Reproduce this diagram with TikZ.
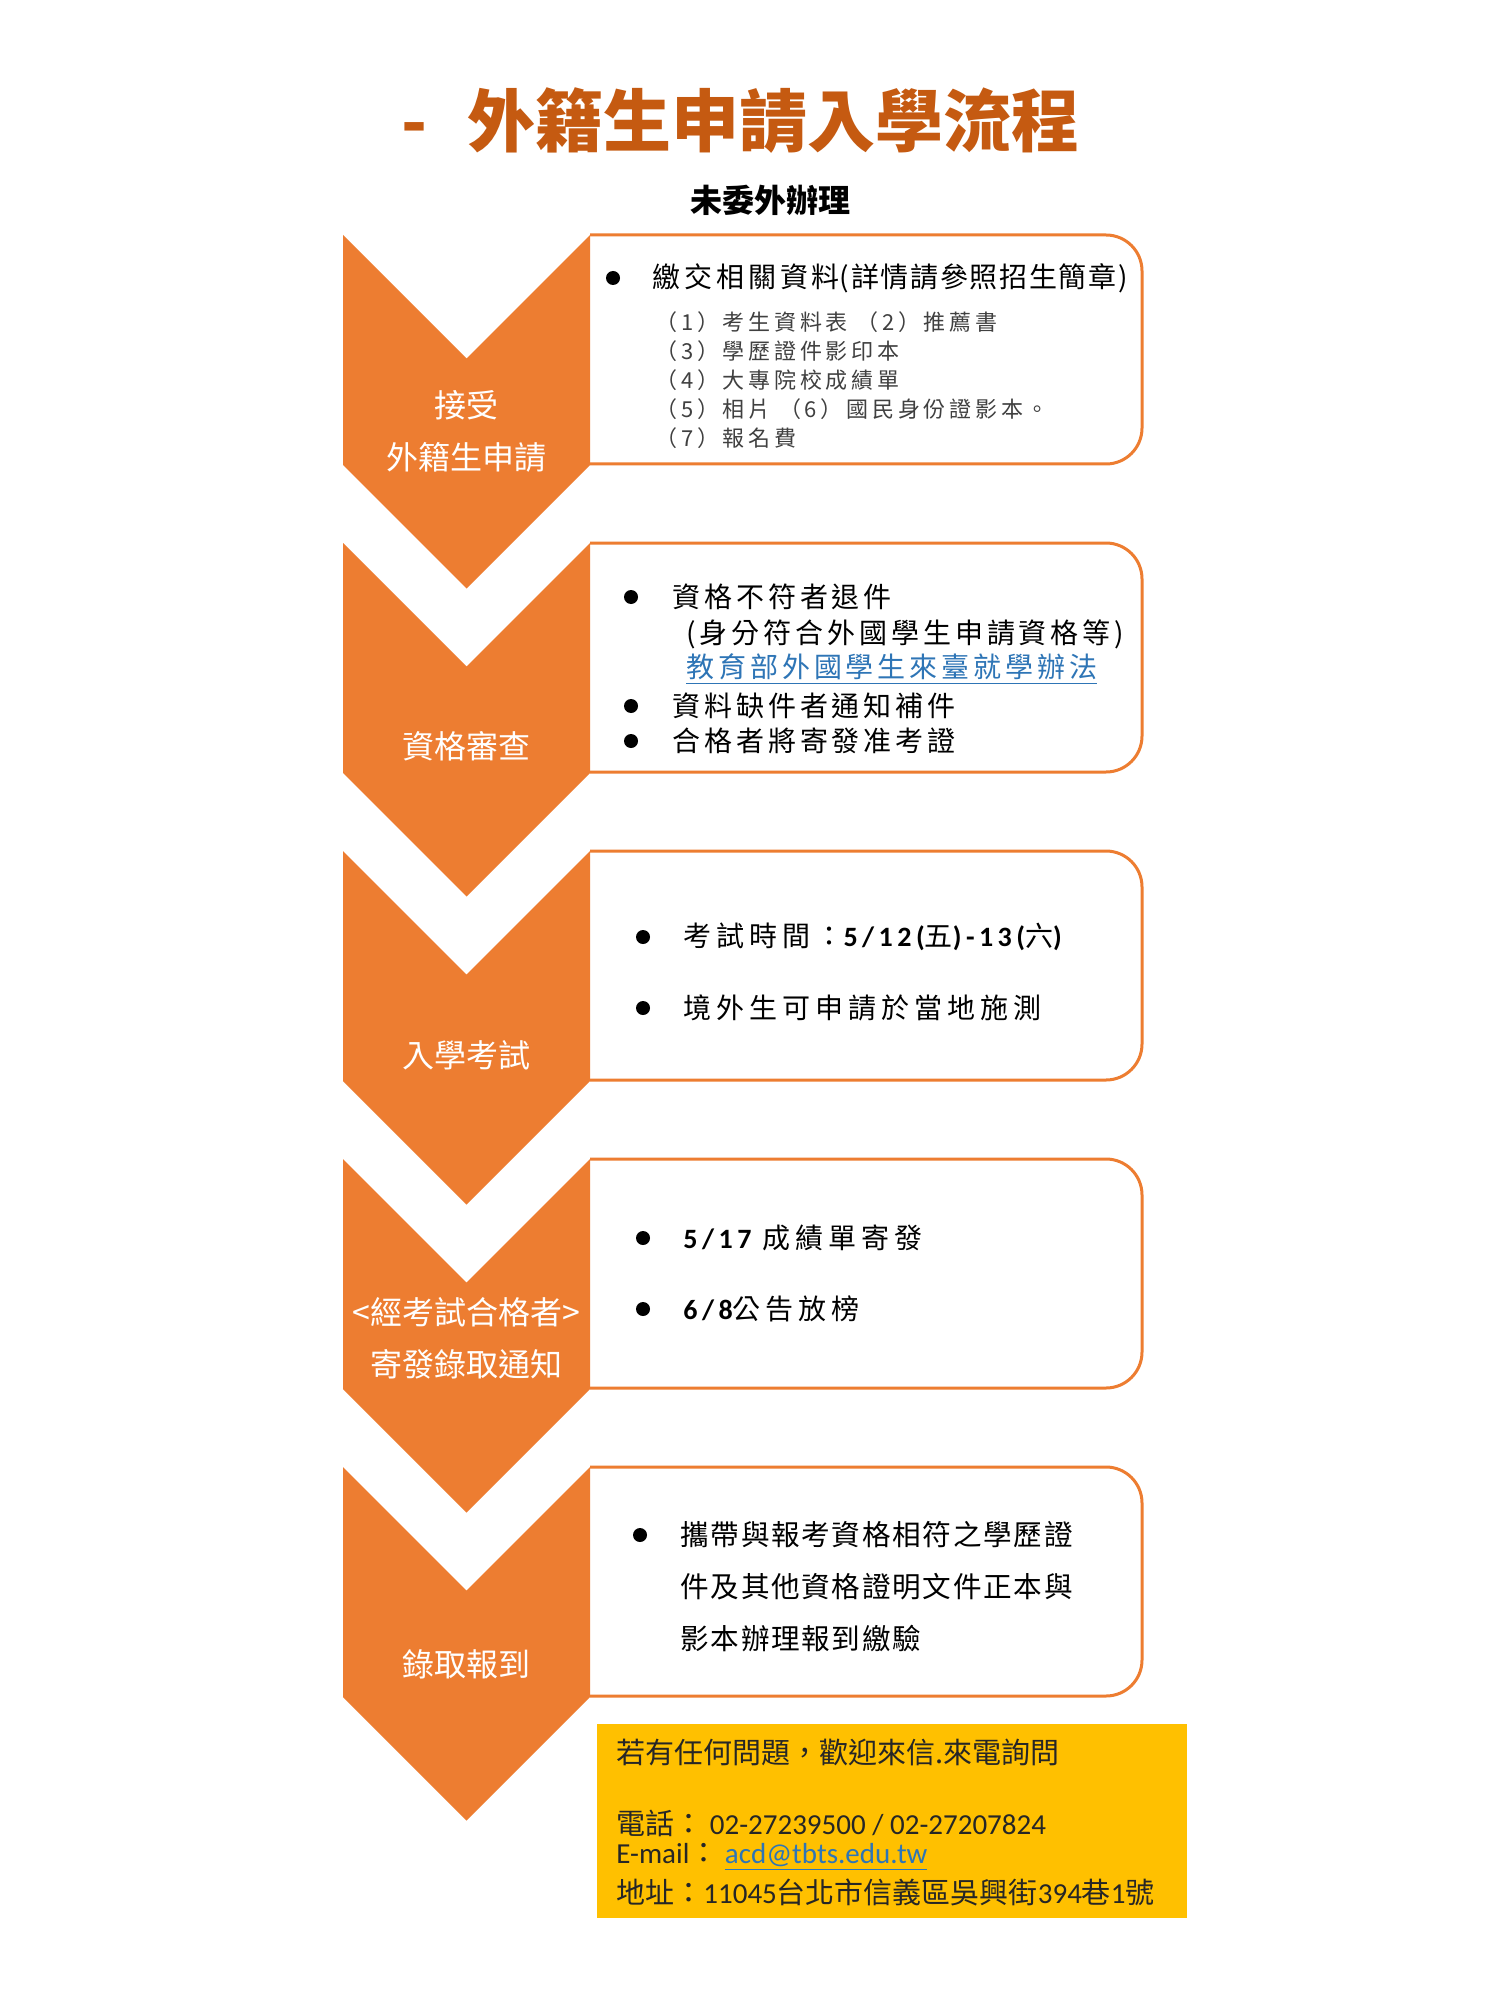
\documentclass[tikz,border=0pt]{standalone}
\usepackage{fontspec}
\usepackage{xcolor}
\setmainfont{Noto Sans CJK TC}
\newfontfamily\cjkwide{Noto Sans CJK TC}[LetterSpace=14]
\newfontfamily\cjkwider{Noto Sans CJK TC}[LetterSpace=18]
\newfontfamily\cjkmid{Noto Sans CJK TC}[LetterSpace=6]
\newfontfamily\cjksub{Noto Sans CJK TC}[LetterSpace=17]
\newfontfamily\latn{Carlito}
\newfontfamily\latnwide{Carlito}[LetterSpace=16]
\usetikzlibrary{positioning}

\definecolor{chevorange}{HTML}{ED7D31}
\definecolor{titlebrown}{HTML}{C55A11}
\definecolor{notegold}{HTML}{FFC000}
\definecolor{linkblue}{HTML}{2E75B6}
\definecolor{subgray}{HTML}{404040}
\definecolor{notetext}{HTML}{262626}

\begin{document}
\begin{tikzpicture}[x=0.5pt, y=-0.5pt,
    chev/.style={fill=chevorange},
    boxline/.style={draw=chevorange, line width=1.5pt, rounded corners=18pt},
    steplabel/.style={text=white, align=center, inner sep=0pt,
        font=\fontsize{16}{26}\selectfont},
    itemtext/.style={anchor=west, inner sep=0pt,
        font=\fontsize{14}{16}\selectfont\cjkwide},
    widetext/.style={itemtext, font=\fontsize{14}{16}\selectfont\cjkwider},
    subtext/.style={anchor=west, inner sep=0pt, text=subgray,
        font=\fontsize{11}{13}\selectfont\cjksub},
    notetxt/.style={anchor=west, inner sep=0pt, text=notetext,
        font=\fontsize{14.5}{16}\selectfont},
    bulletdot/.style={circle, fill=black, minimum size=7pt, inner sep=0pt}]

    % page
    \fill[white] (0,0) rectangle (1500,2000);
    \useasboundingbox (0,0) rectangle (1500,2000);

    % title
    \node[anchor=west, inner sep=0pt, text=titlebrown,
        font=\fontsize{34}{36}\selectfont\bfseries] (ttl) at (401,121)
        {-\hspace{20pt}外籍生申請入學流程};
    \node[inner sep=0pt, font=\fontsize{16}{18}\selectfont\bfseries] (sub) at (770,200) {未委外辦理};

    % boxes behind the chevrons
    \foreach \t in {235,543,851,1159,1467}
        \draw[boxline] (590,\t) -- (1142,\t) -- (1142,\t+229) -- (590,\t+229);

    % chevrons
    \foreach \t in {235,543,851,1159,1467}
        \fill[chev] (343,\t) -- (466.5,\t+123.5) -- (590,\t) -- (590,\t+230)
            -- (466.5,\t+353.5) -- (343,\t+230) -- cycle;

    % chevron labels
    \node[steplabel] (lab1) at (466,431) {接受\\外籍生申請};
    \node[steplabel] (lab2) at (466,746) {資格審查};
    \node[steplabel] (lab3) at (466,1055) {入學考試};
    \node[steplabel] (lab4) at (466,1338) {<經考試合格者>\\寄發錄取通知};
    \node[steplabel] (lab5) at (466,1664) {錄取報到};

    % box 1
    \node[bulletdot] (b11) at (613,278) {};
    \node[itemtext] (t11) at (652,278) {繳交相關資料{\cjkmid({詳情請參照招生簡章})}};
    \node[subtext] (s1) at (655,322) {（1）考生資料表 （2）推薦書};
    \node[subtext] (s2) at (655,351) {（3）學歷證件影印本};
    \node[subtext] (s3) at (655,380) {（4）大專院校成績單};
    \node[subtext] (s4) at (655,409) {（5）相片 （6）國民身份證影本。};
    \node[subtext] (s5) at (655,438) {（7）報名費};

    % box 2
    \node[bulletdot] (b21) at (631,597) {};
    \node[itemtext] (t21) at (672,597) {資格不符者退件};
    \node[itemtext] (t22) at (686,634) {(身分符合外國學生申請資格等)};
    \node[itemtext, text=linkblue] (t23) at (686,669) {\underline{教育部外國學生來臺就學辦法}};
    \node[bulletdot] (b22) at (631,706) {};
    \node[itemtext] (t24) at (672,706) {資料缺件者通知補件};
    \node[bulletdot] (b23) at (631,741) {};
    \node[itemtext] (t25) at (672,741) {合格者將寄發准考證};

    % box 3
    \node[bulletdot] (b31) at (643,937) {};
    \node[widetext] (t31) at (683,937) {考試時間：{\latnwide\bfseries 5/12(}五{\latnwide\bfseries )-13(}六{\latnwide\bfseries )}};
    \node[bulletdot] (b32) at (643,1008) {};
    \node[widetext] (t32) at (683,1008) {境外生可申請於當地施測};

    % box 4
    \node[bulletdot] (b41) at (643,1238) {};
    \node[widetext] (t41) at (683,1238) {{\latnwide\bfseries 5/17} 成績單寄發};
    \node[bulletdot] (b42) at (643,1309) {};
    \node[widetext] (t42) at (683,1309) {{\latnwide\bfseries 6/8}公告放榜};

    % box 5
    \node[bulletdot] (b51) at (640,1535) {};
    \node[itemtext, font=\fontsize{14.3}{26}\selectfont\cjkmid, align=left, anchor=north west] (t51) at (680,1521)
        {攜帶與報考資格相符之學歷證\\件及其他資格證明文件正本與\\影本辦理報到繳驗};

    % contact note
    \fill[notegold] (597,1724) rectangle (1187,1918);
    \node[notetxt] (n1) at (616,1752) {若有任何問題，歡迎來信.來電詢問};
    \node[notetxt] (n2) at (616,1823) {電話： {\latn 02-27239500 / 02-27207824}};
    \node[notetxt] (n3) at (616,1857) {{\latn E-mail}： {\latn\color{linkblue}\underline{acd@tbts.edu.tw}}};
    \node[notetxt] (n4) at (616,1892) {地址：{\latn 11045}台北市信義區吳興街{\latn 394}巷{\latn 1}號};
\end{tikzpicture}
\end{document}
